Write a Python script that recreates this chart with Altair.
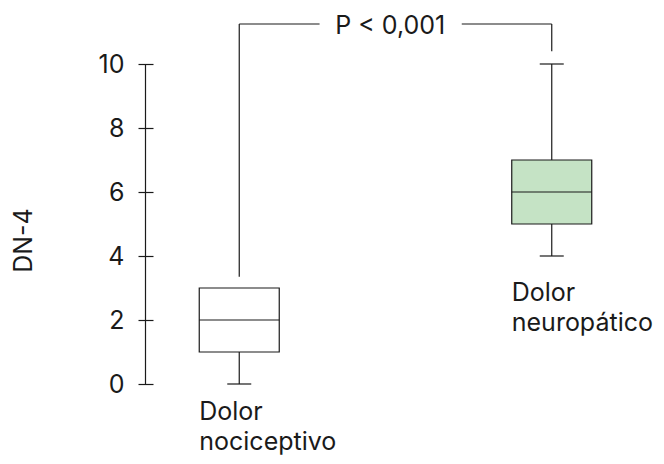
import altair as alt
import pandas as pd

# --- data ---
groups = ["Dolor nociceptivo", "Dolor neuropático"]
group_labels = ["Dolor\nnociceptivo", "Dolor\nneuropático"]
group_pos = [1, 2]
whisker_min = [0, 4]
q1 = [1, 5]
median = [2, 6]
q3 = [3, 7]
whisker_max = [3, 10]
fills = ["#ffffff", "#c5e3c5"]

y_ticks = [0, 2, 4, 6, 8, 10]

# significance bracket (in data units)
bracket_text = "P < 0,001"
bracket_top = 11.25
bracket_left_bottom = 3.35
bracket_right_bottom = 10.4
bracket_text_pos = 1.483
bracket_gap = [1.257, 1.712]

FONT = "Inter"
FS = 25
INK = "#1a1a1a"

df = pd.DataFrame({
    "group": groups, "label": group_labels, "pos": group_pos,
    "lo": whisker_min, "q1": q1, "med": median, "q3": q3, "hi": whisker_max,
    "fill": fills,
})

seg = pd.DataFrame({
    "x": [group_pos[0], group_pos[0], bracket_gap[1], group_pos[1]],
    "x2": [group_pos[0], bracket_gap[0], group_pos[1], group_pos[1]],
    "y": [bracket_left_bottom, bracket_top, bracket_top, bracket_right_bottom],
    "y2": [bracket_top, bracket_top, bracket_top, bracket_top],
})
ptext = pd.DataFrame({"x": [bracket_text_pos], "y": [bracket_top], "t": [bracket_text]})
axis_df = pd.DataFrame({"y": [min(y_ticks)], "y2": [max(y_ticks)]})

xs = alt.Scale(domain=[0.74, 2.276])
ys = alt.Scale(domain=[0, 10], nice=False, zero=False)

base = alt.Chart(df)

yaxis = alt.Axis(values=y_ticks, tickSize=15, domain=False, grid=False,
                 labelFont=FONT, labelFontSize=FS, labelColor=INK, labelPadding=14,
                 tickColor=INK, tickWidth=1.2, title="DN-4", titleFont=FONT,
                 titleFontSize=FS, titleFontWeight="normal", titleColor=INK,
                 titleAngle=270, titleAlign="center", titleBaseline="middle",
                 titleX=-130, titleY=176)

whisk_low = base.mark_rule(color=INK, strokeWidth=1.2).encode(
    x=alt.X("pos:Q", scale=xs, axis=None),
    y=alt.Y("lo:Q", scale=ys, axis=yaxis),
    y2="q1:Q")
whisk_high = base.mark_rule(color=INK, strokeWidth=1.2).encode(
    x=alt.X("pos:Q", scale=xs), y=alt.Y("q3:Q", scale=ys), y2="hi:Q")
box = base.mark_bar(size=80, stroke=INK, strokeWidth=1.2).encode(
    x=alt.X("pos:Q", scale=xs), y=alt.Y("q1:Q", scale=ys), y2="q3:Q",
    fill=alt.Fill("fill:N", scale=None))
med = base.mark_tick(orient="horizontal", size=80, thickness=1.2, color=INK, opacity=1).encode(
    x=alt.X("pos:Q", scale=xs), y=alt.Y("med:Q", scale=ys))
cap_lo = base.mark_tick(orient="horizontal", size=24, thickness=1.2, color=INK, opacity=1).encode(
    x=alt.X("pos:Q", scale=xs), y=alt.Y("lo:Q", scale=ys))
cap_hi = base.transform_filter("datum.hi > datum.q3").mark_tick(
    orient="horizontal", size=24, thickness=1.2, color=INK, opacity=1).encode(
    x=alt.X("pos:Q", scale=xs), y=alt.Y("hi:Q", scale=ys))


def group_label(name, dy):
    return base.transform_filter(alt.datum.group == name).mark_text(
        align="left", baseline="alphabetic", dx=-40, dy=dy,
        lineBreak="\n", lineHeight=30, font=FONT, fontSize=FS, color=INK,
    ).encode(x=alt.X("pos:Q", scale=xs), y=alt.Y("lo:Q", scale=ys), text="label:N")


label_noci = group_label(groups[0], 36)   # kept inside the page edge
label_neuro = group_label(groups[1], 45)

bracket = alt.Chart(seg).mark_rule(color=INK, strokeWidth=1.2).encode(
    x=alt.X("x:Q", scale=xs), x2="x2:Q", y=alt.Y("y:Q", scale=ys), y2="y2:Q")
btext = alt.Chart(ptext).mark_text(align="center", baseline="middle", dy=2,
                                   font=FONT, fontSize=FS, color=INK).encode(
    x=alt.X("x:Q", scale=xs), y=alt.Y("y:Q", scale=ys), text="t:N")

axis_line = alt.Chart(axis_df).mark_rule(color=INK, strokeWidth=1.2).encode(
    x=alt.value(-7.5), y=alt.Y("y:Q", scale=ys), y2="y2:Q")

chart = alt.layer(whisk_low, whisk_high, box, med, cap_lo, cap_hi, label_noci,
                  label_neuro, bracket, btext, axis_line).properties(
    width=490, height=320,
    padding={"left": 145, "top": 56, "right": 13, "bottom": 72},
    autosize="none",
).configure(background="white", view=alt.ViewConfig(strokeWidth=0, stroke="transparent"))

chart.save("out.html", embed_options={"renderer": "svg", "actions": False})
